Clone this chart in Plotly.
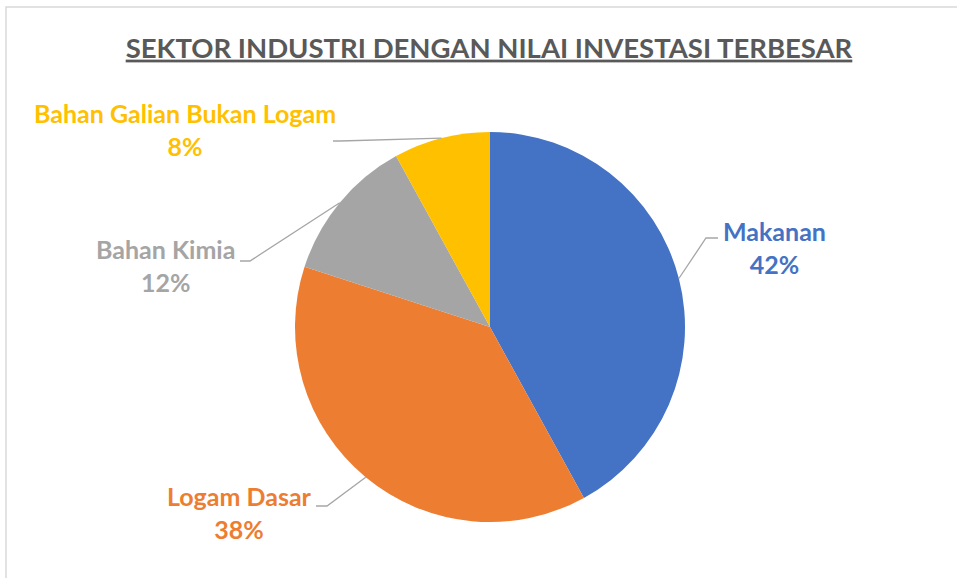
import math
import plotly.graph_objects as go

# Data
sectors = ["Makanan", "Logam Dasar", "Bahan Kimia", "Bahan Galian Bukan Logam"]
shares = [42, 38, 12, 8]
colors = ["#4472C4", "#ED7D31", "#A5A5A5", "#FFC000"]

W, H = 957, 578
cx, cy, r = 490, 327, 195  # pie centre / radius in pixels


def px(x):
    return x / W


def py(y):
    return 1 - y / H


fig = go.Figure()
fig.add_trace(
    go.Pie(
        labels=sectors,
        values=shares,
        marker=dict(colors=colors),
        sort=False,
        direction="clockwise",
        rotation=0,
        textinfo="none",
        hoverinfo="label+percent",
        domain=dict(x=[px(cx - r), px(cx + r)], y=[py(cy + r), py(cy - r)]),
        showlegend=False,
    )
)

# label placement (text centre, elbow of leader line, end of leader line)
label_pos = {
    "Makanan": dict(tx=774, ty=247, elbow=(706, 238), end=(718, 238)),
    "Logam Dasar": dict(tx=240, ty=512, elbow=(327, 506), end=(316, 506)),
    "Bahan Kimia": dict(tx=165, ty=266, elbow=(250, 261), end=(240, 261)),
    "Bahan Galian Bukan Logam": dict(tx=185, ty=129, elbow=(340, 141), end=(333, 141)),
}

total = sum(shares)
cum = 0
for name, val, col in zip(sectors, shares, colors):
    # slice mid-angle -> point on the pie edge where the leader line starts
    mid = 90 - (cum + val / 2) / total * 360
    cum += val
    ex = cx + r * math.cos(math.radians(mid))
    ey = cy - r * math.sin(math.radians(mid))
    p = label_pos[name]
    (bx, by), (dx, dy) = p["elbow"], p["end"]
    fig.add_shape(
        type="path",
        xref="paper", yref="paper",
        path=f"M {px(ex)} {py(ey)} L {px(bx)} {py(by)} L {px(dx)} {py(dy)}",
        line=dict(color="#A6A6A6", width=1.3),
    )
    fig.add_annotation(
        x=px(p["tx"]), y=py(p["ty"]), xref="paper", yref="paper",
        xanchor="center", yanchor="middle",
        text=f"<b>{name}</b><br><b>{round(val / total * 100)}%</b>",
        showarrow=False, align="center",
        font=dict(family="Lato", size=25, color=col),
    )

# chart border
fig.add_shape(type="rect", xref="paper", yref="paper",
              x0=px(6), y0=py(7), x1=1.05, y1=-0.05,
              line=dict(color="#D9D9D9", width=1.5))

fig.update_layout(
    width=W, height=H,
    margin=dict(l=0, r=0, t=0, b=0),
    paper_bgcolor="white",
    plot_bgcolor="white",
    title=dict(
        text="<b><u>SEKTOR INDUSTRI DENGAN NILAI INVESTASI TERBESAR</u></b>",
        x=px(489), xanchor="center", y=py(48), yanchor="middle",
        font=dict(family="Lato", size=27.5, color="#595959"),
    ),
)

fig.write_html("out.html", config={"displayModeBar": False},
               post_script="document.body.style.margin='0';")
